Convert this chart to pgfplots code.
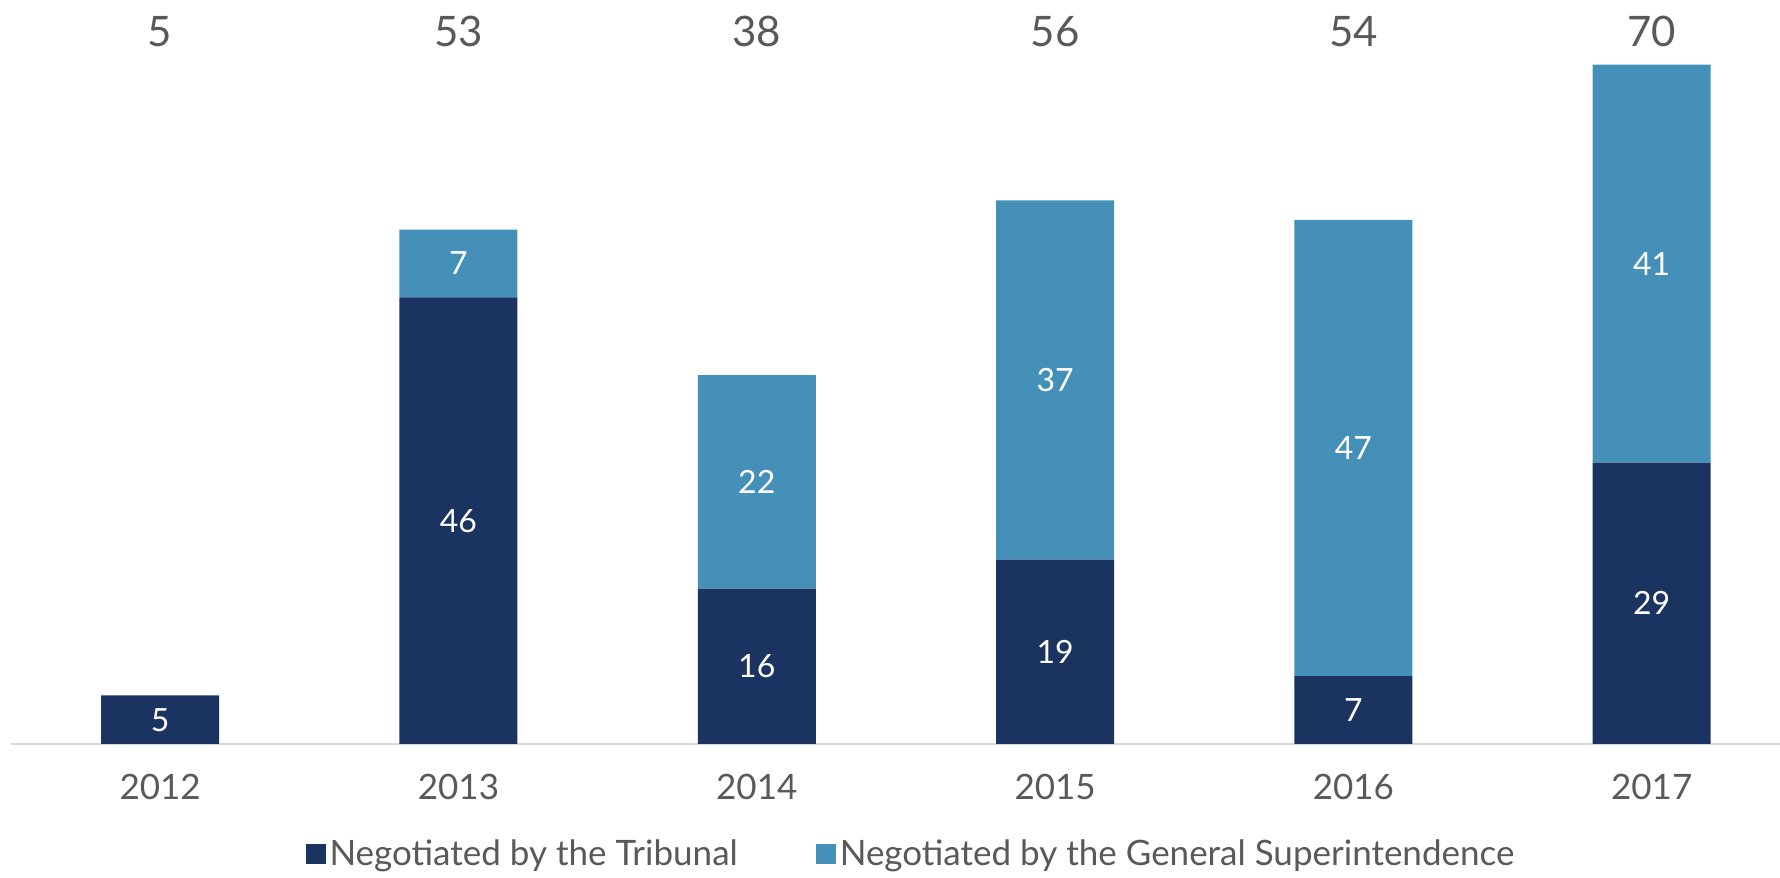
\documentclass[border=0pt]{standalone}
\usepackage{pgfplots}
\pgfplotsset{compat=1.18}
\usepackage{fontspec}
\setmainfont{Lato}
\definecolor{navy}{HTML}{1B3360}
\definecolor{steel}{HTML}{4590B8}
\definecolor{txt}{HTML}{595959}
\definecolor{axl}{HTML}{D9D9D9}
\tikzset{seg/.style={text=white, font=\fontsize{16}{19}\selectfont, anchor=center},
         tot/.style={text=txt, font=\fontsize{21}{25}\selectfont, anchor=center}}
\pgfplotsset{frame/.style={
  at={(5.5pt,66.5pt)}, anchor=south west,
  scale only axis, width=884.5pt, height=364pt,
  xmin=-0.5, xmax=5.43, ymin=0, ymax=75, clip=false}}
\begin{document}
\begin{tikzpicture}
\begin{axis}[
  frame,
  ybar stacked, bar width=59pt,
  axis x line*=bottom, axis y line=none,
  x axis line style={axl, line width=1pt, -},
  xtick={0,1,2,3,4,5}, xticklabels={2012,2013,2014,2015,2016,2017},
  xtick style={draw=none},
  xticklabel style={anchor=center, yshift=-21.5pt, font=\fontsize{17.5}{20}\selectfont, text=txt},
  legend style={at={(0.5093,-0.1511)}, anchor=center, draw=none, legend columns=2,
    font=\fontsize{17.5}{20}\selectfont, text=txt,
    /tikz/every even column/.append style={column sep=37pt}},
  legend image code/.code={\fill[#1] (0pt,-5pt) rectangle (10pt,5pt);},
]
\addplot[fill=navy, draw=none] coordinates {(0,5) (1,46) (2,16) (3,19) (4,7) (5,29)};
\addlegendentry{Negotiated by the Tribunal}
\addplot[fill=steel, draw=none] coordinates {(0,0) (1,7) (2,22) (3,37) (4,47) (5,41)};
\addlegendentry{Negotiated by the General Superintendence}
\end{axis}
\begin{axis}[frame, axis lines=none, xtick=\empty, ytick=\empty]
\node[seg] at (axis cs:0,2.5) {5};
\node[seg] at (axis cs:1,23) {46};
\node[seg] at (axis cs:1,49.5) {7};
\node[seg] at (axis cs:2,8) {16};
\node[seg] at (axis cs:2,27) {22};
\node[seg] at (axis cs:3,9.5) {19};
\node[seg] at (axis cs:3,37.5) {37};
\node[seg] at (axis cs:4,3.5) {7};
\node[seg] at (axis cs:4,30.5) {47};
\node[seg] at (axis cs:5,14.5) {29};
\node[seg] at (axis cs:5,49.5) {41};
\node[tot] at (axis cs:0,73.36) {5};
\node[tot] at (axis cs:1,73.36) {53};
\node[tot] at (axis cs:2,73.36) {38};
\node[tot] at (axis cs:3,73.36) {56};
\node[tot] at (axis cs:4,73.36) {54};
\node[tot] at (axis cs:5,73.36) {70};
\end{axis}
\pgfresetboundingbox
\path (0,0) rectangle (890pt,438.5pt);
\end{tikzpicture}
\end{document}
